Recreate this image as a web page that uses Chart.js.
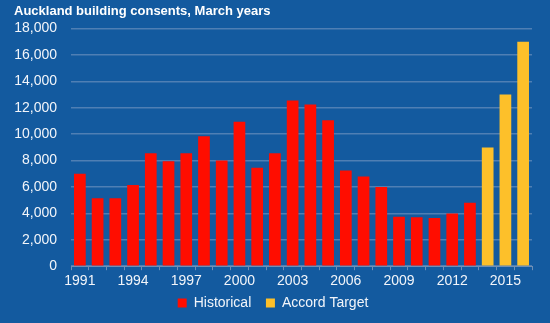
<!DOCTYPE html>
<html>
<head>
<meta charset="utf-8">
<script src="https://cdn.jsdelivr.net/npm/chart.js@4"></script>
<style>
  html, body { margin: 0; padding: 0; background: #135a9f; }
  #wrap { width: 550px; height: 323px; }
</style>
</head>
<body>
<div id="wrap"><canvas id="consentsChart" width="550" height="323"></canvas></div>
<script>
var years = ['1991', '1992', '1993', '1994', '1995', '1996', '1997', '1998', '1999', '2000',
  '2001', '2002', '2003', '2004', '2005', '2006', '2007', '2008', '2009', '2010',
  '2011', '2012', '2013', '2014', '2015', '2016'];
var historical = [7000, 5150, 5150, 6150, 8550, 7950, 8550, 9850, 8000, 10950,
  7450, 8550, 12550, 12250, 11050, 7250, 6800, 6000, 3750, 3700,
  3650, 4000, 4800, null, null, null];
var accordTarget = [null, null, null, null, null, null, null, null, null, null,
  null, null, null, null, null, null, null, null, null, null,
  null, null, null, 9000, 13000, 17000];

Chart.defaults.font.family = "'Liberation Sans', Arial, sans-serif";
Chart.defaults.color = '#f2f5fa';

var ctx = document.getElementById('consentsChart').getContext('2d');
var consentsChart = new Chart(ctx, {
  type: 'bar',
  data: {
    labels: years,
    datasets: [{
      // trailing spaces widen the gap before the next legend item
      label: 'Historical   ',
      data: historical,
      backgroundColor: '#ff0d00',
      barPercentage: 0.66,
      categoryPercentage: 1
    }, {
      label: 'Accord Target',
      data: accordTarget,
      backgroundColor: '#fdc02a',
      barPercentage: 0.66,
      categoryPercentage: 1
    }]
  },
  options: {
    responsive: false,
    animation: false,
    grouped: false,
    layout: { padding: { left: 14, right: 18, top: 2, bottom: 3 } },
    plugins: {
      title: {
        display: true,
        text: 'Auckland building consents, March years',
        align: 'start',
        color: '#ffffff',
        font: { size: 13, weight: 'bold' },
        padding: { top: 2, bottom: 9 }
      },
      legend: {
        position: 'bottom',
        labels: {
          boxWidth: 9,
          boxHeight: 9,
          padding: 3,
          font: { size: 14 },
          color: '#f2f5fa'
        }
      },
      tooltip: { enabled: false }
    },
    scales: {
      x: {
        grid: {
          offset: true,
          drawOnChartArea: false,
          tickLength: 4,
          color: '#6f8fb5'
        },
        border: { color: '#6f8fb5' },
        ticks: {
          autoSkip: false,
          maxRotation: 0,
          padding: 3,
          font: { size: 14 },
          callback: function (value, index) {
            return index % 3 === 0 ? years[index] : '';
          }
        }
      },
      y: {
        min: 0,
        max: 18000,
        afterFit: function (scale) { scale.width = 57; },
        grid: {
          drawTicks: false,
          color: '#4f7fb4',
          lineWidth: 1.5
        },
        border: { display: false },
        ticks: {
          stepSize: 2000,
          padding: 14,
          font: { size: 14 },
          callback: function (value) {
            return value.toLocaleString('en-US');
          }
        }
      }
    }
  }
});
</script>
</body>
</html>
